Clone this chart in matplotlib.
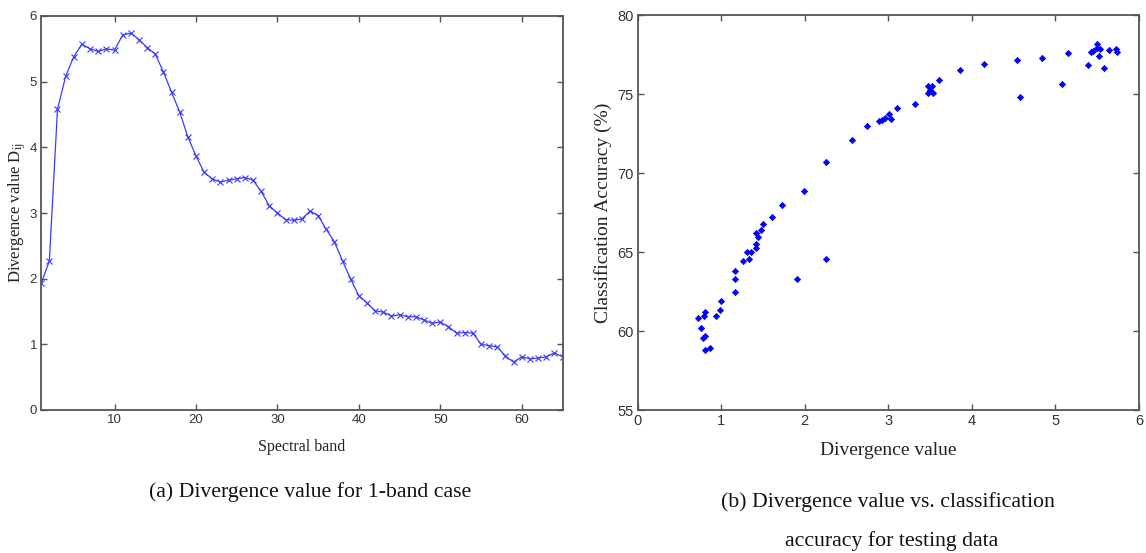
import matplotlib
matplotlib.use("Agg")
import matplotlib.pyplot as plt

# ---- data: (a) divergence value per spectral band ----
bands = list(range(1, 66))
divergence = [1.93, 2.27, 4.58, 5.08, 5.38, 5.57, 5.50, 5.46, 5.50, 5.48,
              5.71, 5.74, 5.64, 5.52, 5.42, 5.15, 4.84, 4.54, 4.16, 3.87,
              3.62, 3.52, 3.47, 3.50, 3.52, 3.54, 3.50, 3.33, 3.11, 3.00,
              2.90, 2.89, 2.91, 3.03, 2.96, 2.75, 2.56, 2.27, 1.99, 1.74,
              1.63, 1.51, 1.49, 1.43, 1.45, 1.42, 1.42, 1.37, 1.32, 1.34,
              1.27, 1.17, 1.18, 1.17, 1.00, 0.98, 0.96, 0.82, 0.73, 0.81,
              0.78, 0.79, 0.81, 0.87, 0.81]

# ---- data: (b) divergence value vs classification accuracy ----
div_b = [0.72, 0.76, 0.78, 0.79, 0.80, 0.80, 0.80, 0.86, 0.94, 0.98,
         1.00, 1.16, 1.17, 1.16, 1.26, 1.31, 1.33, 1.36, 1.41, 1.41,
         1.42, 1.44, 1.47, 1.50, 1.61, 1.73, 1.91, 1.99, 2.25, 2.25,
         2.56, 2.75, 2.89, 2.92, 2.96, 3.01, 3.03, 3.10, 3.32, 3.48,
         3.52, 3.50, 3.48, 3.54, 3.61, 3.86, 4.15, 4.54, 4.58, 4.84,
         5.08, 5.15, 5.39, 5.42, 5.45, 5.50, 5.50, 5.53, 5.52, 5.58,
         5.64, 5.72, 5.74]
acc_b = [60.80, 60.21, 59.56, 60.95, 61.22, 59.68, 58.80, 58.95, 60.95, 61.31,
         61.90, 63.80, 63.29, 62.47, 64.43, 65.02, 64.58, 65.02, 65.48, 65.23,
         66.22, 65.97, 66.39, 66.80, 67.22, 67.96, 63.29, 68.84, 70.68, 64.58,
         72.07, 73.00, 73.31, 73.35, 73.46, 73.73, 73.44, 74.11, 74.39, 75.51,
         75.51, 75.25, 75.04, 75.04, 75.87, 76.52, 76.90, 77.17, 74.83, 77.26,
         75.63, 77.62, 76.81, 77.68, 77.74, 78.14, 77.89, 77.83, 77.41, 76.67,
         77.77, 77.85, 77.64]

xticks_a = [10, 20, 30, 40, 50, 60]
yticks_a = [0, 1, 2, 3, 4, 5, 6]
xticks_b = [0, 1, 2, 3, 4, 5, 6]
yticks_b = [55, 60, 65, 70, 75, 80]

W, H = 1146, 553
fig = plt.figure(figsize=(W / 100, H / 100), dpi=100)
plt.rcParams['mathtext.fontset'] = 'stix'

frame_col = '#555555'
tick_family = 'Liberation Sans'
serif = 'Liberation Serif'


def style(ax, size):
    for s in ax.spines.values():
        s.set_color(frame_col)
        s.set_linewidth(1.3)
    ax.tick_params(direction='in', length=4, width=1, colors=frame_col,
                   top=True, right=True, pad=3)
    for lab in ax.get_xticklabels() + ax.get_yticklabels():
        lab.set_fontfamily(tick_family)
        lab.set_fontsize(size)
        lab.set_color('#333333')


# (a)
ax1 = fig.add_axes([41.2 / W, 1 - 410 / H, (562.5 - 41.2) / W, (410 - 16) / H])
ax1.plot(bands, divergence, color='#3a3aff', lw=0.9, marker='x', ms=3.8,
         mew=0.8)
ax1.set_xlim(1, 65)
ax1.set_ylim(0, 6)
ax1.set_xticks(xticks_a)
ax1.set_yticks(yticks_a)
style(ax1, 9.5)
ax1.set_xlabel('Spectral band', family=serif, fontsize=11.5, color='#222222',
               labelpad=9)
ax1.set_ylabel(r'Divergence value D$_{\rm ij}$', family=serif, fontsize=12,
               color='#222222', labelpad=1)

# (b)
ax2 = fig.add_axes([637.7 / W, 1 - 410 / H, (1139 - 637.7) / W, (410 - 15) / H])
ax2.plot(div_b, acc_b, linestyle='none', marker='D', ms=3.2, mew=0.5,
         color='#0000ff', mec='#0000ff')
ax2.set_xlim(0, 6)
ax2.set_ylim(55, 80)
ax2.set_xticks(xticks_b)
ax2.set_yticks(yticks_b)
style(ax2, 10.5)
ax2.set_xlabel('Divergence value', family=serif, fontsize=14, color='#222222',
               labelpad=10)
ax2.set_ylabel('Classification Accuracy (%)', family=serif, fontsize=14,
               color='#222222', labelpad=4)

# captions
cap = 15.7
fig.text(310 / W, 1 - 492 / H, '(a) Divergence value for 1-band case',
         family=serif, fontsize=cap, ha='center', va='center', color='#111111')
fig.text(888 / W, 1 - 502 / H, '(b) Divergence value vs. classification',
         family=serif, fontsize=cap, ha='center', va='center', color='#111111')
fig.text(892 / W, 1 - 541 / H, 'accuracy for testing data',
         family=serif, fontsize=cap, ha='center', va='center', color='#111111')

fig.savefig('out.png', dpi=100)
